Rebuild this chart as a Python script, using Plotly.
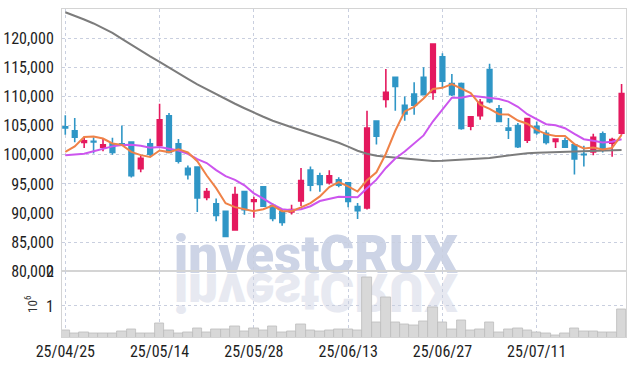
import plotly.graph_objects as go
from plotly.subplots import make_subplots

dates = ["25/04/25","25/04/28","25/04/29","25/04/30","25/05/02","25/05/07","25/05/08","25/05/09","25/05/12","25/05/13",
 "25/05/14","25/05/15","25/05/16","25/05/19","25/05/20","25/05/21","25/05/22","25/05/23","25/05/26","25/05/27",
 "25/05/28","25/05/29","25/05/30","25/06/02","25/06/04","25/06/05","25/06/09","25/06/10","25/06/11","25/06/12",
 "25/06/13","25/06/16","25/06/17","25/06/18","25/06/19","25/06/20","25/06/23","25/06/24","25/06/25","25/06/26",
 "25/06/27","25/06/30","25/07/01","25/07/02","25/07/03","25/07/04","25/07/07","25/07/08","25/07/09","25/07/10",
 "25/07/11","25/07/14","25/07/15","25/07/16","25/07/17","25/07/18","25/07/21","25/07/22","25/07/23","25/07/24"]

opens = [104800,104100,102100,102300,101300,101900,101900,102200,97600,101900,
 101600,106700,101900,97700,97900,92700,91600,90300,87100,93700,
 92000,94500,91300,90200,90200,92100,97400,96400,95200,95700,
 95200,91100,90900,105800,109500,113300,108500,110400,113300,110700,
 116800,112200,112200,104900,106700,114600,107900,104600,105000,102500,
 104900,103700,102300,102400,101700,100100,100500,103600,102000,103700]
highs = [106800,106300,103150,103000,102700,102900,105000,102300,99850,102750,
 108750,107150,102700,98150,97900,94300,92500,90300,94500,93700,
 92800,94500,91650,90600,91450,97750,98000,96900,97350,96150,
 95300,91750,107550,105900,114700,113300,110000,112450,115000,119000,
 117400,113850,112400,106500,109550,115600,108550,106300,105450,106200,
 105700,104200,102800,102900,101800,101550,103600,104000,102900,112150]
lows = [103450,102150,101150,100200,100600,100000,101700,96100,97000,99600,
 101450,100300,98500,95750,90200,92200,88600,85900,87000,89700,
 89200,91100,88600,87850,89750,91200,93750,93650,94900,94450,
 91000,89000,90600,101750,108100,107550,105850,106850,110200,109450,
 111450,110100,104300,104200,106000,108850,105600,102700,101150,102000,
 103450,101750,101150,101200,96600,98000,99900,100400,99650,103450]
closes = [104600,103000,102400,102200,101700,100400,101800,96400,99400,100100,
 106000,100400,98900,96600,92600,93700,89600,86000,93200,90600,
 92300,91200,89100,88400,90600,95600,94800,94900,96400,94800,
 92000,90400,104600,103200,110700,111700,107000,108500,110300,119000,
 112600,110300,104500,106500,109000,109100,105700,104200,101400,106200,
 103800,102100,102700,101300,99300,100000,103000,101000,102600,110500]

ma5 = [100480,101440,103050,103150,102780,101940,101700,100500,99940,99620,
 100740,100460,100960,100400,98900,96440,94280,91700,91020,90620,
 90340,90660,91280,90320,90320,90980,91700,92860,94460,95300,
 94580,93700,95640,97000,100180,104120,107440,108220,109640,111300,
 111480,112140,111340,110580,108580,107880,106960,106900,105880,105320,
 104260,103540,103240,103220,101840,101080,101260,100920,101180,103420]
ma10 = [99920,100020,100190,100590,101050,101440,101670,101730,101560,101200,
 101340,101080,100730,100170,99260,98590,97370,96330,95710,94760,
 93390,92470,91490,90670,90470,90660,91180,92070,92390,92810,
 92780,92700,94250,95730,97740,99350,100570,101930,103320,105740,
 107800,109790,109780,110110,109940,109680,109550,109120,108230,106950,
 106070,105250,105070,104550,103580,102670,102400,102100,102220,102650]
ma_long = [124440,123850,123200,122520,121660,120890,119870,118840,117900,116870,
 115930,114910,113960,113020,112080,111230,110370,109520,108750,107980,
 107210,106520,105840,105240,104730,104210,103700,103180,102670,102070,
 101390,100700,100190,99850,99680,99510,99330,99160,99020,98940,
 98990,99080,99160,99200,99300,99450,99680,99880,100100,100280,
 100360,100410,100450,100480,100530,100570,100620,100670,100740,100840]
volumes = [290000,210000,235000,210000,210000,210000,265000,320000,210000,210000,
 500000,290000,210000,235000,350000,235000,310000,310000,410000,265000,
 350000,290000,410000,235000,270000,470000,290000,265000,290000,310000,
 310000,280000,1830000,520000,1240000,520000,460000,430000,550000,950000,
 520000,310000,575000,280000,310000,520000,225000,310000,340000,280000,
 225000,195000,160000,195000,340000,265000,265000,225000,225000,895000]

tick_dates = ["25/04/25","25/05/14","25/05/28","25/06/13","25/06/27","25/07/11"]
price_ticks = [80000,85000,90000,95000,100000,105000,110000,115000,120000]
watermark = "investCRUX"

UP = "#e4195e"
DOWN = "#2f96c6"
FONT = "Roboto Condensed, DejaVu Sans Condensed, Liberation Sans Narrow, Liberation Sans, sans-serif"
GRID = "#c9cfdf"
TICKFONT = dict(size=16, family=FONT, color="#1e1e1e")

fig = make_subplots(rows=2, cols=1, shared_xaxes=True, row_heights=[0.8, 0.2], vertical_spacing=0)

fig.add_trace(go.Scatter(x=dates, y=ma_long, mode="lines", line=dict(color="#7c7c7c", width=2), hoverinfo="skip"), row=1, col=1)
fig.add_trace(go.Scatter(x=dates, y=ma10, mode="lines", line=dict(color="#cc55ee", width=2), hoverinfo="skip"), row=1, col=1)
fig.add_trace(go.Scatter(x=dates, y=ma5, mode="lines", line=dict(color="#ef8248", width=2), hoverinfo="skip"), row=1, col=1)
fig.add_trace(go.Candlestick(x=dates, open=opens, high=highs, low=lows, close=closes,
                             increasing=dict(line=dict(color=UP, width=1.6), fillcolor=UP),
                             decreasing=dict(line=dict(color=DOWN, width=1.6), fillcolor=DOWN),
                             whiskerwidth=0), row=1, col=1)
fig.add_trace(go.Bar(x=dates, y=volumes, marker=dict(color="#d8d8d8", line=dict(color="#bdbdbd", width=0.8))), row=2, col=1)

fig.update_layout(
    width=634, height=366,
    margin=dict(l=62, r=8, t=9, b=28.5, autoexpand=False),
    paper_bgcolor="white", plot_bgcolor="white",
    showlegend=False, bargap=0.0, boxgap=0.3,
    font=dict(family=FONT, size=16, color="#1e1e1e"),
    xaxis_rangeslider_visible=False,
)
xcommon = dict(type="category", range=[-0.35, 59.47], tickmode="array", tickvals=tick_dates, ticktext=tick_dates,
               showgrid=True, gridcolor=GRID, griddash="dot", gridwidth=1, automargin=False,
               showline=True, linecolor="#d4d4d4", mirror=True, ticks="", zeroline=False)
fig.update_xaxes(**xcommon, showticklabels=False, row=1, col=1)
fig.update_xaxes(**xcommon, showticklabels=True, tickfont=TICKFONT, row=2, col=1)
fig.update_yaxes(range=[80000, 125000], tickvals=price_ticks, tickformat=",d", automargin=False,
                 showgrid=True, gridcolor=GRID, griddash="dot", gridwidth=1, ticklabelstandoff=4,
                 showline=True, linecolor="#d4d4d4", mirror=True, ticks="", zeroline=False,
                 tickfont=TICKFONT, row=1, col=1)
fig.update_yaxes(range=[100000, 2000000], tickvals=[1000000, 2000000], ticktext=["1", "2"], automargin=False,
                 showgrid=True, gridcolor=GRID, griddash="dot", gridwidth=1, ticklabelstandoff=4,
                 showline=True, linecolor="#d4d4d4", mirror=True, ticks="", zeroline=False,
                 title=dict(text="10<sup>6</sup>", font=dict(size=13, family=FONT, color="#333333"), standoff=5),
                 tickfont=TICKFONT, row=2, col=1)

# watermark (below the data) and its reflection
wm_font = dict(family="Roboto, Liberation Sans, sans-serif", size=53, weight=900)
fig.add_shape(type="rect", xref="paper", yref="paper", x0=0.30, x1=0.60, y0=0.223, y1=0.303, layer="below",
              line=dict(width=0), fillcolor="rgba(0,0,0,0)",
              label=dict(text=watermark, font=dict(**wm_font, color="#cdd4e6"), textposition="middle center", padding=0))
fig.add_shape(type="rect", xref="paper", yref="paper", x0=0.30, x1=0.60, y0=0.108, y1=0.188, layer="below",
              line=dict(width=0), fillcolor="rgba(0,0,0,0)",
              label=dict(text=watermark, font=dict(**wm_font, color="#e7e9f1"), textposition="middle center", padding=0))

post = """
document.body.style.margin = '0';
var gd = document.getElementById('{plot_id}');
var found = [];
gd.querySelectorAll('text').forEach(function(t){ if (t.textContent === 'investCRUX') found.push(t); });
if (found.length > 1) {
  var t = found[found.length - 1];
  t.style.transformBox = 'fill-box';
  t.style.transformOrigin = 'center';
  t.style.transform = 'scaleY(-1)';
}
"""

fig.write_html("out.html", post_script=post, config={"displayModeBar": False})
